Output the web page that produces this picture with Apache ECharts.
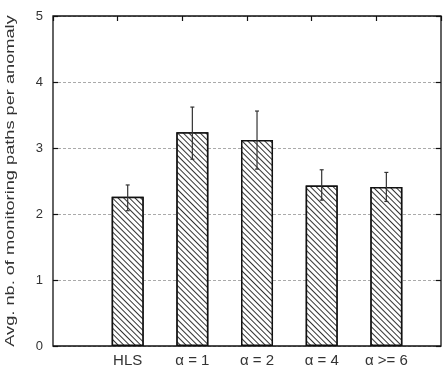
<!DOCTYPE html>
<html><head><meta charset="utf-8">
<script src="https://cdn.jsdelivr.net/npm/echarts@6/dist/echarts.min.js"></script>
<style>html,body{margin:0;padding:0;background:#fff}#c{width:445px;height:374px}</style>
</head><body><div id="c"></div>
<script>
const categories = ['HLS', 'α = 1', 'α = 2', 'α = 4', 'α >= 6'];
const means = [2.26, 3.24, 3.12, 2.43, 2.41];
const errLow = [2.05, 2.83, 2.68, 2.21, 2.19];
const errHigh = [2.44, 3.62, 3.56, 2.67, 2.63];
const yTicks = [0, 1, 2, 3, 4, 5];
const yName = 'Avg. nb. of monitoring paths per anomaly';

const chart = echarts.init(document.getElementById('c'), null, {renderer: 'canvas'});
const font = 'Liberation Sans, Arial, sans-serif';
const L = 53, R = 441, T = 16, B = 346;
const unit = (R - L) / 6;
const g1Left = L + unit * 0.655;
chart.setOption({
  animation: false,
  grid: [
    {left: L, top: T, width: R - L, height: B - T, show: true, borderColor: '#111', borderWidth: 1.3, backgroundColor: 'transparent', z: 5},
    {left: g1Left, top: T, width: unit * 5, height: B - T}
  ],
  graphic: [
    {type: 'text', x: 10, y: 181, rotation: Math.PI / 2, scaleX: 1.4,
     style: {text: yName, fill: '#333', font: '13px ' + font, textAlign: 'center', textVerticalAlign: 'middle'}}
  ],
  xAxis: [
    {gridIndex: 0, type: 'value', min: -1, max: 5, interval: 1, position: 'top',
     axisLine: {show: false, onZero: false}, axisLabel: {show: false}, splitLine: {show: false},
     axisTick: {show: true, inside: true, length: 5, lineStyle: {color: '#111', width: 1.2}}},
    {gridIndex: 1, type: 'category', data: categories, position: 'bottom',
     axisLine: {show: false, onZero: false}, axisTick: {show: false},
     axisLabel: {color: '#333', fontSize: 15, fontFamily: font, margin: 7}}
  ],
  yAxis: [
    {gridIndex: 0, type: 'value', min: 0, max: 5, interval: 1, position: 'left',
     axisLine: {show: false, onZero: false},
     axisTick: {show: true, inside: true, length: 5, lineStyle: {color: '#111', width: 1.2}},
     axisLabel: {color: '#333', fontSize: 13, fontFamily: font, margin: 10,
       formatter: v => yTicks.includes(v) ? String(v) : ''},
     splitLine: {show: true, lineStyle: {color: '#aaa', type: [3, 2], width: 1}}},
    {gridIndex: 0, type: 'value', min: 0, max: 5, interval: 1, position: 'right',
     axisLine: {show: false, onZero: false}, axisLabel: {show: false}, splitLine: {show: false},
     axisTick: {show: true, inside: true, length: 5, lineStyle: {color: '#111', width: 1.2}}},
    {gridIndex: 1, type: 'value', min: 0, max: 5, show: false}
  ],
  series: [
    {type: 'bar', xAxisIndex: 1, yAxisIndex: 2, data: means, barWidth: 32, z: 3,
     itemStyle: {color: '#fff', borderColor: '#111', borderWidth: 1.5,
       decal: {symbol: 'rect', color: '#333', backgroundColor: '#fff',
         dashArrayX: [1, 0], dashArrayY: [1, 2.1], rotation: Math.PI / 4}}},
    {type: 'custom', xAxisIndex: 1, yAxisIndex: 2, z: 4,
     data: categories.map((c, i) => [i, errLow[i], errHigh[i]]),
     renderItem: (params, api) => {
       const lo = api.coord([api.value(0), api.value(1)]);
       const hi = api.coord([api.value(0), api.value(2)]);
       const s = {stroke: '#333', lineWidth: 1.2};
       return {type: 'group', children: [
         {type: 'line', shape: {x1: lo[0], y1: lo[1], x2: hi[0], y2: hi[1]}, style: s},
         {type: 'line', shape: {x1: hi[0] - 2, y1: hi[1], x2: hi[0] + 2, y2: hi[1]}, style: s},
         {type: 'line', shape: {x1: lo[0] - 2, y1: lo[1], x2: lo[0] + 2, y2: lo[1]}, style: s}
       ]};
     }}
  ]
});
</script></body></html>
